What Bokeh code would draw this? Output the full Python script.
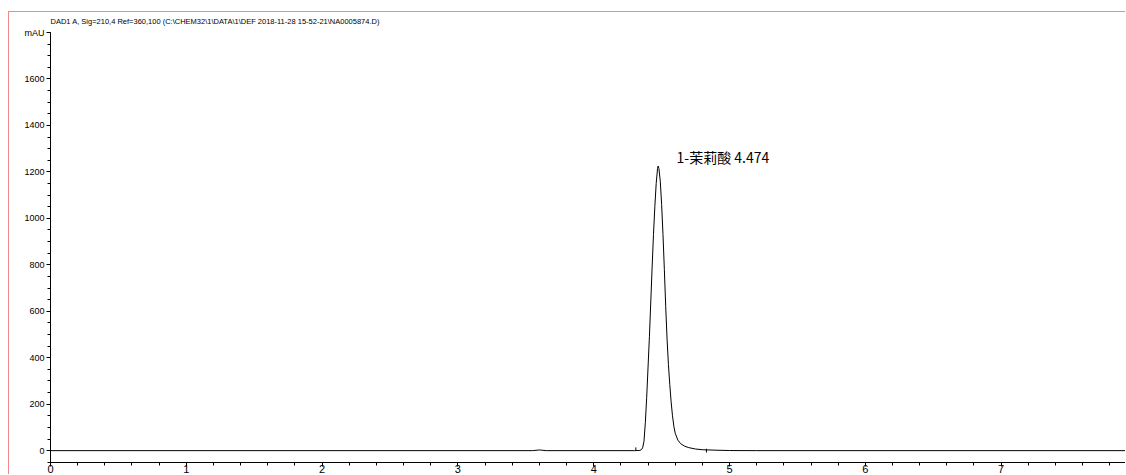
from bokeh.plotting import figure
from bokeh.models import Range1d, Label, FixedTicker
from bokeh.embed import file_html
from bokeh.resources import INLINE
from bokeh.core.properties import value

# ---- data ----
time_min = [0.00, 3.55, 3.60, 3.65, 4.30, 4.34, 4.35, 4.36, 4.37, 4.38, 4.39, 4.40,
            4.41, 4.42, 4.43, 4.44, 4.45, 4.46, 4.47, 4.474, 4.48, 4.49, 4.50, 4.51,
            4.52, 4.53, 4.54, 4.55, 4.56, 4.57, 4.58, 4.59, 4.60, 4.62, 4.64, 4.67,
            4.70, 4.75, 4.80, 4.90, 5.00, 5.20, 7.95]
signal_mau = [0.0, 0.0, 3.0, 0.0, 0.0, 1.0, 4.0, 12.0, 40.0, 120.0, 230.0, 360.0,
              490.0, 640.0, 790.0, 930.0, 1050.0, 1150.0, 1215.0, 1225.0, 1215.0, 1160.0, 1060.0, 930.0,
              780.0, 620.0, 480.0, 370.0, 285.0, 210.0, 150.0, 105.0, 75.0, 45.0, 30.0, 19.0,
              13.0, 7.0, 4.0, 2.0, 0.5, 0.0, 0.0]

peak_label = "1-茉莉酸 4.474"
peak_label_time = 4.61
peak_label_mau = 1262

marker_times = [4.31, 4.83]
marker_low = [0, -8]
marker_high = [14, 8]

x_ticks = [0, 1, 2, 3, 4, 5, 6, 7]
y_ticks = [0, 200, 400, 600, 800, 1000, 1200, 1400, 1600, 1800]
y_tick_labels = {0: "0", 200: "200", 400: "400", 600: "600", 800: "800", 1000: "1000",
                 1200: "1200", 1400: "1400", 1600: "1600", 1800: "mAU"}

title_text = "DAD1 A, Sig=210,4 Ref=360,100 (C:\\CHEM32\\1\\DATA\\1\\DEF 2018-11-28 15-52-21\\NA0005874.D)"

NARROW = "'Liberation Sans Narrow', 'Liberation Sans', Arial, sans-serif"

p = figure(width=1117, height=463, output_backend="svg", toolbar_location=None,
           x_range=Range1d(0, 7.923), y_range=Range1d(-51, 1800),
           min_border_left=41, min_border_right=0, min_border_top=18, min_border_bottom=0)
p.styles = {"border-left": "1px solid #f08a8a", "border-top": "1px solid #f08a8a",
            "margin-top": "11px", "margin-left": "8px"}

p.title.text = title_text
p.title.text_font = NARROW
p.title.text_font_size = "7.5px"
p.title.text_font_style = "normal"
p.title.text_color = "black"
p.title.align = "left"
p.title.vertical_align = "top"
p.title.standoff = 9
p.title.offset = 0

p.outline_line_color = None
p.xgrid.grid_line_color = None
p.ygrid.grid_line_color = None
p.background_fill_color = "white"
p.border_fill_color = "white"

# axes
xa = p.xaxis[0]
xa.ticker = FixedTicker(ticks=x_ticks,
                        minor_ticks=[i / 5 for i in range(0, 40)])
xa.axis_line_color = "black"
xa.major_tick_line_color = "black"
xa.minor_tick_line_color = "black"
xa.major_tick_in = 0
xa.major_tick_out = 4
xa.minor_tick_in = 0
xa.minor_tick_out = 3
xa.major_label_standoff = -2
xa.major_label_text_font = "Liberation Sans"
xa.major_label_text_font_size = "11px"
xa.major_label_text_color = "black"

ya = p.yaxis[0]
ya.ticker = FixedTicker(ticks=y_ticks, minor_ticks=[i * 50 for i in range(-1, 37)])
ya.major_label_overrides = y_tick_labels
ya.axis_line_color = "black"
ya.major_tick_line_color = "black"
ya.minor_tick_line_color = "black"
ya.major_tick_in = 0
ya.major_tick_out = 4
ya.minor_tick_in = 0
ya.minor_tick_out = 3
ya.major_label_standoff = 2
ya.major_label_text_font = NARROW
ya.major_label_text_font_size = "9px"
ya.major_label_text_color = "black"

# signal
p.line(time_min, signal_mau, line_color="black", line_width=1)

# integration markers
p.segment(x0=marker_times, y0=marker_low, x1=marker_times, y1=marker_high,
          line_color="black", line_width=1)

# peak label
p.add_layout(Label(x=peak_label_time, y=peak_label_mau, text=peak_label,
                   text_font="Noto Sans CJK SC", text_font_size="14px",
                   text_color="black", text_baseline="middle", text_align="left"))

open("out.html", "w").write(file_html(p, INLINE))
